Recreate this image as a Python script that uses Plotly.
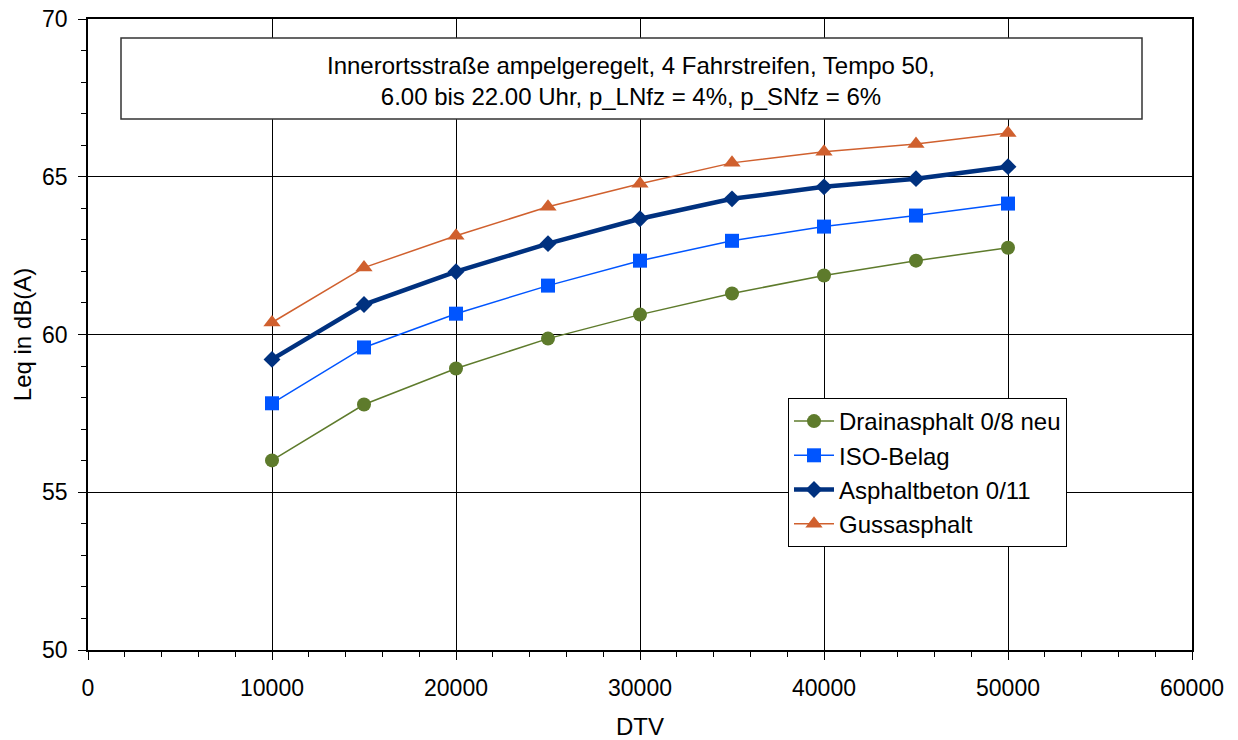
import plotly.graph_objects as go

dtv = [10000, 15000, 20000, 25000, 30000, 35000, 40000, 45000, 50000]
drain = [56.01, 57.78, 58.92, 59.87, 60.63, 61.30, 61.87, 62.34, 62.75]
iso = [57.82, 59.59, 60.66, 61.55, 62.34, 62.97, 63.42, 63.77, 64.15]
beton = [59.21, 60.95, 61.99, 62.88, 63.67, 64.30, 64.68, 64.94, 65.32]
guss = [60.38, 62.12, 63.13, 64.05, 64.78, 65.44, 65.79, 66.04, 66.39]

names = ["Drainasphalt 0/8 neu", "ISO-Belag", "Asphaltbeton 0/11", "Gussasphalt"]
series = [drain, iso, beton, guss]
colors = ["#5E7B2C", "#0055FF", "#00317F", "#D0602E"]
symbols = ["circle", "square", "diamond", "triangle-up"]
widths = [1.5, 1.5, 4.5, 1.5]
sizes = [14, 14, 13, 15]

fig = go.Figure()
for n, s, c, sym, w, sz in zip(names, series, colors, symbols, widths, sizes):
    fig.add_trace(go.Scatter(
        x=dtv, y=s, name=n, mode="lines+markers",
        line=dict(color=c, width=w),
        marker=dict(symbol=sym, size=sz, color=c),
    ))

font = "Liberation Sans, Arial, sans-serif"
fig.update_layout(
    width=1238, height=740,
    margin=dict(l=88, r=46, t=19, b=90),
    paper_bgcolor="white", plot_bgcolor="white",
    font=dict(family=font, size=23, color="black"),
    showlegend=True,
    legend=dict(
        x=(788 - 88) / 1104, y=(650 - 398) / 631, xanchor="left", yanchor="top",
        bordercolor="black", borderwidth=1, bgcolor="white",
        font=dict(size=24), tracegroupgap=0, itemwidth=40,
    ),
    xaxis=dict(
        range=[0, 60000], dtick=10000, tick0=0, tickformat="d",
        showgrid=True, gridcolor="black", gridwidth=1,
        showline=True, linecolor="black", linewidth=1.5, mirror=True,
        ticks="outside", ticklen=8, tickcolor="black", ticklabelstandoff=9,
        minor=dict(dtick=2000, ticks="outside", ticklen=5, tickcolor="black", showgrid=False),
        zeroline=False, automargin=False,
        title=dict(text="DTV", font=dict(size=24), standoff=18),
        tickfont=dict(size=23),
    ),
    yaxis=dict(
        range=[50, 70], dtick=5, tick0=50,
        showgrid=True, gridcolor="black", gridwidth=1,
        showline=True, linecolor="black", linewidth=1.5, mirror=True,
        ticks="outside", ticklen=8, tickcolor="black", ticklabelstandoff=6,
        minor=dict(dtick=1, ticks="outside", ticklen=5, tickcolor="black", showgrid=False),
        zeroline=False, automargin=False,
        title=dict(text="Leq in dB(A)", font=dict(size=24), standoff=4),
        tickfont=dict(size=23),
    ),
    shapes=[dict(
        type="rect", xref="paper", yref="paper",
        x0=(121 - 88) / 1104, x1=(1142 - 88) / 1104,
        y0=(650 - 119) / 631, y1=(650 - 38) / 631,
        line=dict(color="#333333", width=1.5), fillcolor="white", layer="above",
    )],
    annotations=[dict(
        xref="paper", yref="paper",
        x=(631 - 88) / 1104, y=(650 - 81) / 631,
        text="Innerortsstraße ampelgeregelt, 4 Fahrstreifen, Tempo 50,<br>6.00 bis 22.00 Uhr, p_LNfz = 4%, p_SNfz = 6%",
        showarrow=False, font=dict(size=24), align="center",
        xanchor="center", yanchor="middle",
    )],
)

fig.write_html("out.html")
